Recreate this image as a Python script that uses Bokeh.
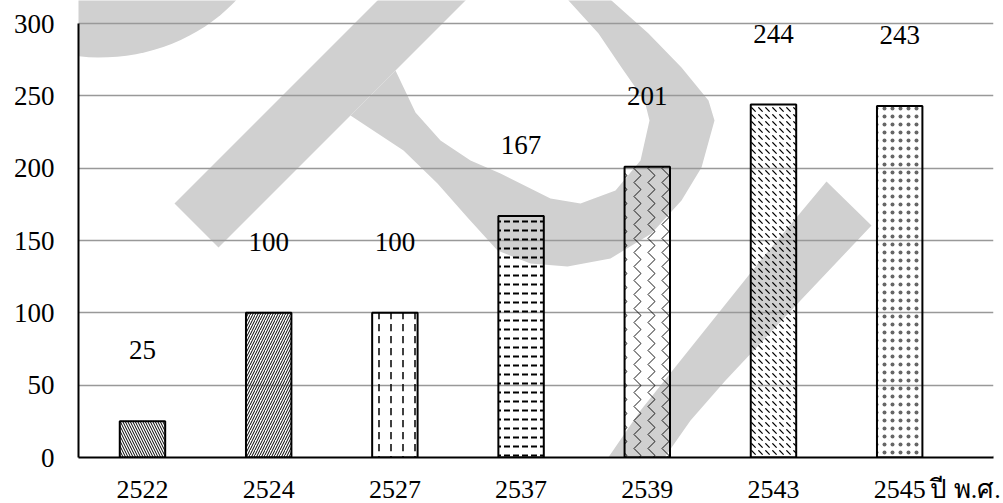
import numpy as np
from bokeh.plotting import figure
from bokeh.models import Range1d, FixedTicker, ColumnDataSource, LabelSet
from bokeh.core.properties import value
from bokeh.embed import file_html
from bokeh.resources import INLINE

# ---- data -------------------------------------------------------------
years = ["2522", "2524", "2527", "2537", "2539", "2543", "2545"]
counts = [25, 100, 100, 167, 201, 244, 243]
y_ticks = [0, 50, 100, 150, 200, 250, 300]
x_unit_label = "ปี พ.ศ."

# ---- styling ----------------------------------------------------------
bar_hatches = ["\\", "/", ":", '"', ">", "`", "."]
bar_hatch_scales = [5, 5, 12, 9, 14, 7, 8]
bar_hatch_weights = [1, 1, 1.5, 2, 1, 1.2, 0.5]
bar_hatch_alphas = [1, 1, 1, 1, 0.9, 1, 0.6]
FONT = "Liberation Serif, DejaVu Serif, serif"
FONT_SIZE = "27px"
X_FONT_SIZE = "26px"
LABEL_GAP = 49          # data-unit gap between bar top and its value label
UNIT_POS = 6.522        # x position of the unit caption on the category axis

# page / frame geometry (pixels)
W, H = 1003, 503
FL, FT, FW, FH = 78, 0, 915, 457
PX_PER_UNIT = 434 / 300.0
PX_PER_CAT = 126.2
X_START = -0.507

p = figure(frame_width=FW, frame_height=FH,
           min_border_left=FL, min_border_top=FT,
           min_border_right=W - FL - FW, min_border_bottom=H - FT - FH,
           x_range=Range1d(X_START, X_START + FW / PX_PER_CAT),
           y_range=Range1d(0, FH / PX_PER_UNIT),
           output_backend="svg", toolbar_location=None)
p.background_fill_color = "white"
p.border_fill_color = "white"
p.outline_line_color = None

# pixel-space ranges used for the background watermark
p.extra_x_ranges = {"cx": Range1d(FL, FL + FW)}
p.extra_y_ranges = {"cy": Range1d(FT + FH, FT)}

# ---- watermark (pixel coordinates, y downwards) ------------------------
t = np.linspace(0, 2 * np.pi, 120)
WM_HEAD = list(zip(100 + 180 * np.cos(t), -110 + 167 * np.sin(t)))
WM_STEM = [(174, 203), (218, 247), (498, -33), (454, -77)]
WM_LOOP = [(350, 115), (403, 150), (437, 183), (467, 217), (497, 250), (530, 263),
           (567, 266), (610, 258), (651, 233), (681, 200), (701, 167), (714, 120),
           (708, 100), (681, 67), (648, 33), (611, 0), (602, -12),
           (560, -12), (568, 0), (598, 33), (621, 67), (644, 100), (649, 120),
           (640, 160), (615, 190), (580, 203), (550, 198), (530, 188), (500, 173),
           (470, 160), (440, 140), (415, 112), (395, 70)]
WM_TAIL = [(826, 181), (871, 225), (800, 300), (725, 380), (690, 420), (655, 470),
           (632, 515), (570, 515), (592, 480), (640, 410), (700, 335), (760, 260)]
WM_CORNER = [(940, 515), (1015, 430), (1015, 515)]

shapes = [WM_HEAD, WM_STEM, WM_LOOP, WM_TAIL, WM_CORNER]
p.patches(xs=[[float(a) for a, _ in s] for s in shapes],
          ys=[[float(b) for _, b in s] for s in shapes],
          x_range_name="cx", y_range_name="cy",
          fill_color="#d0d0d0", line_color=None, level="image")

# ---- bars -------------------------------------------------------------
idx = list(range(len(years)))
src = ColumnDataSource(dict(
    x=idx, count=counts, label=[str(c) for c in counts],
    label_y=[c + LABEL_GAP for c in counts],
    hatch=bar_hatches, hscale=bar_hatch_scales, hweight=bar_hatch_weights,
    halpha=bar_hatch_alphas,
))
p.vbar(x="x", top="count", bottom=0, width=0.36, source=src,
       fill_alpha=0, line_color="black", line_width=2,
       hatch_pattern="hatch", hatch_scale="hscale", hatch_weight="hweight",
       hatch_alpha="halpha", hatch_color="black")

p.add_layout(LabelSet(x="x", y="label_y", text="label", source=src,
                      text_align="center", text_baseline="middle",
                      text_font=value(FONT), text_font_size=FONT_SIZE,
                      text_color="black"))

# ---- axes & grid ------------------------------------------------------
x_ticks = idx + [UNIT_POS]
p.xaxis.ticker = FixedTicker(ticks=x_ticks)
overrides = {i: y for i, y in zip(idx, years)}
overrides[UNIT_POS] = x_unit_label
p.xaxis.major_label_overrides = overrides
p.yaxis.ticker = FixedTicker(ticks=y_ticks)
p.yaxis.bounds = (0, 300)
for ax in (p.xaxis, p.yaxis):
    ax.axis_line_color = "black"
    ax.axis_line_width = 2
    ax.major_tick_out = 0
    ax.major_tick_in = 0
    ax.minor_tick_out = 0
    ax.minor_tick_in = 0
    ax.major_label_text_font = FONT
    ax.major_label_text_color = "black"
p.xaxis.major_label_text_font_size = X_FONT_SIZE
p.yaxis.major_label_text_font_size = FONT_SIZE
p.xaxis.major_label_standoff = 17
p.yaxis.major_label_standoff = 24

p.xgrid.visible = False
p.ygrid.grid_line_color = "#999999"
p.ygrid.grid_line_width = 1.5

with open("out.html", "w", encoding="utf-8") as f:
    f.write(file_html(p, INLINE, "chart"))
